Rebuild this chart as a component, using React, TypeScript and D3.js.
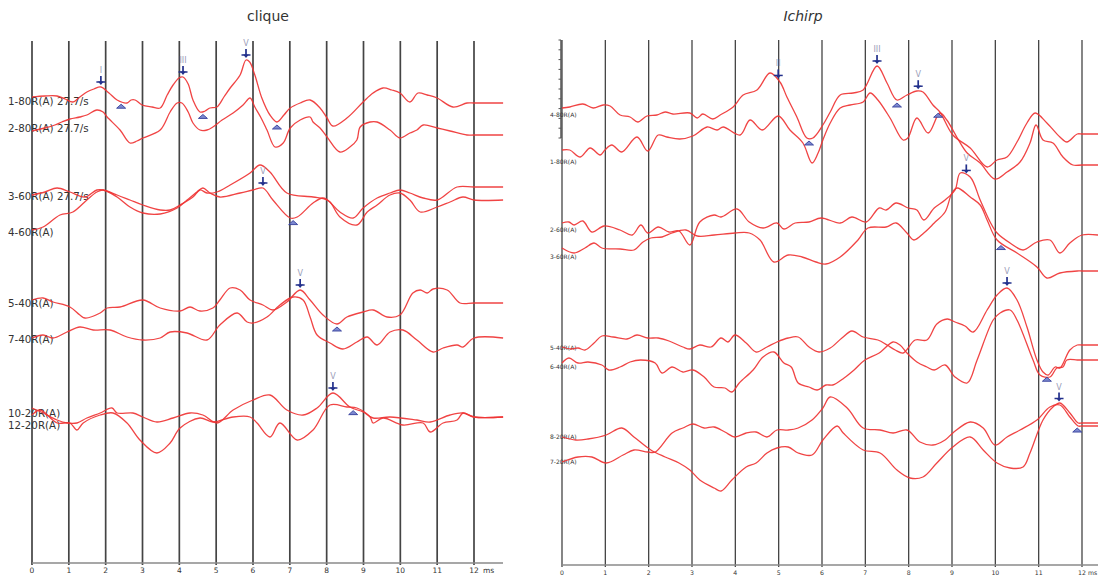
import React from 'react';
import * as d3 from 'd3';

type Pt = [number, number];

// ---------- shared axis ----------
const TICKS: number[] = [0, 1, 2, 3, 4, 5, 6, 7, 8, 9, 10, 11, 12];

// ---------- clique (left) ----------
const cliqueLabels: string[] = ['1-80R(A) 27.7/s', '2-80R(A) 27.7/s', '3-60R(A) 27.7/s', '4-60R(A)', '5-40R(A)', '7-40R(A)', '10-20R(A)', '12-20R(A)'];

const clique1: Pt[] = [[0,0.4],[0.35,0.5],[0.68,0.5],[0.9,0.2],[1.11,-0.1],[1.3,0.4],[1.49,0.9],[1.68,1.2],[1.87,1.4],[2.09,0.8],[2.31,0.1],[2.58,-0.2],[2.69,0.1],[2.8,0.1],[2.99,-0.4],[3.26,-0.6],[3.48,-0.7],[3.67,0.6],[3.83,1.6],[3.99,2.3],[4.1,2.4],[4.24,1.7],[4.37,0.1],[4.56,-1.1],[4.7,-1.0],[4.83,-0.7],[5.02,-0.6],[5.21,0.4],[5.38,1.3],[5.65,2.6],[5.81,4.1],[5.91,3.9],[6.05,2.6],[6.24,0.3],[6.46,-1.4],[6.65,-2.1],[6.84,-1.4],[7.01,-0.7],[7.28,-0.2],[7.55,0.1],[7.82,-0.7],[8.01,-1.7],[8.17,-2.5],[8.55,-1.7],[8.99,-0.1],[9.26,0.8],[9.53,1.3],[9.77,1.1],[9.99,0.8],[10.26,-0.1],[10.48,0.8],[10.73,0.6],[11.0,0.3],[11.43,-0.6],[11.81,-0.2],[12.0,-0.2],[12.79,-0.2]];
const clique2: Pt[] = [[0,-0.3],[0.35,0],[0.62,0.3],[0.81,0.6],[1.03,0.9],[1.3,1.1],[1.49,1.3],[1.76,1.8],[1.93,1.6],[2.04,1.1],[2.39,-0.2],[2.66,-1.5],[2.85,-1.3],[3.01,-1.0],[3.48,-0.2],[3.75,1.6],[3.94,2.5],[4.07,2.5],[4.24,1.6],[4.37,0.5],[4.56,-0.2],[4.75,-0.2],[4.91,0.1],[5.16,0.8],[5.46,1.5],[5.73,2.3],[5.92,3.0],[6.05,2.1],[6.22,1.0],[6.38,-0.2],[6.6,-1.9],[6.82,-1.5],[7.01,0],[7.28,0.8],[7.55,1.1],[7.63,0.6],[7.82,0],[8.01,-0.9],[8.36,-2.4],[8.63,-1.9],[8.82,-1.2],[8.91,0.1],[9.18,0.6],[9.37,0.6],[9.72,-0.2],[9.99,-1.0],[10.26,-0.5],[10.45,-0.2],[10.62,0.3],[11.0,0],[11.35,-0.3],[11.81,-0.7],[12.0,-0.7],[12.79,-0.7]];
const clique3: Pt[] = [[0,0.1],[0.35,0.4],[0.68,0.8],[1.03,0.4],[1.44,-0.1],[1.76,0.6],[1.93,0.6],[2.31,0.1],[2.66,-0.4],[3.01,-0.9],[3.48,-1.4],[3.75,-1.4],[4.02,-0.9],[4.37,-0.1],[4.56,0.6],[4.75,0.3],[5.02,0.4],[5.38,1.1],[5.92,2.3],[6.19,3.1],[6.46,2.4],[6.92,0.3],[7.63,-0.1],[8.01,-0.4],[8.36,-1.6],[8.72,-2.2],[8.99,-1.2],[9.37,-0.2],[9.72,0.3],[9.99,0.6],[10.26,0.3],[10.62,-0.2],[11.0,-0.4],[11.54,0.9],[12.0,0.9],[12.79,0.9]];
const clique4: Pt[] = [[0,0.2],[0.3,0.5],[0.76,1.7],[1.11,2.0],[1.49,3.2],[1.76,4.0],[1.93,4.2],[2.31,3.5],[2.66,2.5],[3.01,1.9],[3.48,1.8],[3.94,2.4],[4.21,3.2],[4.48,4.0],[4.64,4.4],[4.83,3.9],[5.1,3.5],[5.65,3.9],[6.0,4.2],[6.27,4.4],[6.54,3.2],[7.01,1.4],[7.2,1.5],[7.63,2.9],[7.9,3.4],[8.09,3.0],[8.36,1.5],[8.82,0.7],[9.1,2.0],[9.37,2.7],[9.72,3.7],[9.99,3.9],[10.26,3.2],[10.54,2.0],[11.0,2.5],[11.35,3.0],[11.7,3.5],[12.0,3.2],[12.79,3.2]];
const clique5: Pt[] = [[0,0.3],[0.3,0.5],[0.57,0.1],[1.03,-0.4],[1.3,-1.2],[1.44,-1.5],[1.85,-1.0],[2.04,-0.5],[2.39,-0.4],[3.01,0.3],[3.48,-0.5],[4.02,-0.8],[4.29,-0.4],[4.56,-0.8],[4.91,-0.5],[5.1,0.3],[5.38,1.5],[5.65,1.3],[5.92,0.3],[6.27,-0.2],[6.54,-0.7],[6.92,0.1],[7.28,1.3],[7.55,0.3],[7.9,-1.2],[8.28,-2.1],[8.55,-1.4],[8.99,-0.9],[9.26,-0.7],[9.64,-1.4],[9.99,-1.2],[10.34,1.0],[10.54,1.3],[10.73,1.0],[10.89,1.4],[11.27,1.3],[11.62,0],[12.0,0],[12.79,0]];
const clique7: Pt[] = [[0,0.1],[0.3,0.4],[0.57,0.1],[0.95,0.7],[1.3,1.2],[1.66,0.9],[2.12,0.9],[2.58,0.2],[3.01,-0.1],[3.48,0.1],[3.75,0.7],[4.21,0.6],[4.75,-0.1],[5.1,1.4],[5.57,2.6],[5.84,1.7],[6.0,1.6],[6.38,2.2],[6.73,3.4],[7.09,4.2],[7.36,3.9],[7.55,2.2],[7.74,0.4],[8.09,-0.4],[8.44,-1.0],[8.82,-0.3],[9.1,0.2],[9.37,-0.6],[9.72,0.7],[10.07,0.9],[10.45,-0.1],[10.89,-1.3],[11.16,-0.9],[11.54,-0.6],[11.7,-0.8],[12.0,0.1],[12.79,0.1]];
const clique10: Pt[] = [[0,0.5],[0.3,0],[0.68,-0.7],[0.95,-1.0],[1.22,-1.0],[1.49,-0.5],[1.85,0],[2.17,0.5],[2.31,0],[2.74,0],[3.01,-0.4],[3.39,-0.9],[3.83,-0.5],[4.29,0],[4.64,-0.2],[5.02,-1.0],[5.46,0.3],[6.0,1.3],[6.46,1.8],[6.92,0.3],[7.36,-0.2],[7.74,0.5],[8.17,2.0],[8.63,0.6],[8.99,0.1],[9.26,-0.5],[9.72,-0.4],[10.45,-0.7],[10.81,-0.9],[11.35,-0.2],[11.7,0],[12.0,-0.4],[12.79,-0.4]];
const clique12: Pt[] = [[0,1.0],[0.22,1.5],[0.68,0.2],[1.03,0.2],[1.22,-0.5],[1.39,0.2],[1.85,1.0],[2.2,1.2],[2.58,0.2],[2.93,-1.5],[3.39,-2.8],[3.75,-1.8],[4.02,-0.3],[4.56,0.7],[4.91,0.3],[5.46,0.8],[5.92,0.8],[6.11,0.2],[6.46,-1.2],[6.73,0.2],[7.2,-1.5],[7.63,-0.5],[8.09,2.0],[8.55,1.8],[8.82,1.7],[9.18,0.8],[9.26,0.2],[9.53,0.7],[10.07,0],[10.62,0.2],[10.81,-0.7],[11.16,0.2],[11.54,0.5],[11.7,1.2],[12.0,0.8],[12.79,0.8]];

const cliquePeaks = [
  { row: 0, t: 1.87, label: 'I' },
  { row: 0, t: 4.1, label: 'III' },
  { row: 0, t: 5.81, label: 'V' },
  { row: 3, t: 6.27, label: 'V' },
  { row: 4, t: 7.28, label: 'V' },
  { row: 6, t: 8.17, label: 'V' },
];
const cliqueTroughs = [
  { row: 0, t: 2.42 }, { row: 0, t: 4.64 }, { row: 0, t: 6.65 },
  { row: 3, t: 7.09 }, { row: 4, t: 8.28 }, { row: 7, t: 8.72 },
];

// ---------- Ichirp (right) ----------
const ichirpLabels: string[] = ['4-80R(A)', '1-80R(A)', '2-60R(A)', '3-60R(A)', '5-40R(A)', '6-40R(A)', '8-20R(A)', '7-20R(A)'];

const ichirp4: Pt[] = [[0,0.7],[0.18,0.8],[0.48,1.1],[0.72,0.7],[0.95,1.0],[1.11,0.9],[1.34,0],[1.57,-0.2],[1.75,-0.7],[1.96,-0.1],[2.19,0],[2.38,0.3],[2.56,0.1],[2.95,0.2],[3.12,-0.3],[3.25,0.1],[3.48,-0.4],[3.65,0],[3.95,0.8],[4.18,2.0],[4.5,2.5],[4.8,4.2],[5.03,3.3],[5.19,1.8],[5.42,-0.2],[5.65,-2.3],[5.79,-2.3],[6.02,-1.0],[6.19,0.3],[6.42,2.0],[6.72,2.2],[6.95,2.5],[7.27,4.9],[7.5,3.2],[7.73,1.5],[7.96,2.0],[8.19,2.4],[8.33,2.3],[8.56,1.0],[8.72,0.3],[9.02,-2.0],[9.42,-3.3],[9.81,-5.2],[10.04,-4.5],[10.27,-4.2],[10.5,-2.7],[10.73,-0.8],[10.92,0.2],[11.19,-0.8],[11.49,-2.2],[11.65,-2.7],[11.89,-1.9],[12.0,-1.9],[12.37,-1.9]];
const ichirp1: Pt[] = [[0,1.2],[0.18,1.2],[0.42,0.5],[0.65,1.4],[0.88,0.7],[0.99,1.2],[1.15,1.7],[1.38,1.0],[1.73,2.5],[1.98,1.1],[2.22,2.7],[2.42,2.5],[2.72,2.3],[3.02,2.6],[3.35,3.5],[3.58,3.2],[3.72,3.5],[4.11,2.7],[4.34,4.2],[4.62,3.2],[4.99,4.6],[5.26,3.2],[5.56,1.9],[5.77,-0.1],[5.91,0.9],[6.02,2.2],[6.19,3.9],[6.42,5.4],[6.65,5.7],[6.95,6.0],[7.11,6.9],[7.29,6.2],[7.57,4.4],[7.87,2.2],[7.98,2.4],[8.19,4.4],[8.45,2.9],[8.72,4.9],[8.88,4.2],[9.11,2.5],[9.35,0.9],[9.65,-0.1],[9.99,-1.7],[10.27,-1.0],[10.57,0],[10.8,1.9],[10.94,3.7],[11.1,2.2],[11.33,1.9],[11.56,0.5],[11.79,-0.3],[12.0,-0.3],[12.37,-0.3]];
const ichirp2: Pt[] = [[0,0.7],[0.16,0.8],[0.28,0.5],[0.48,0.9],[0.69,-0.2],[0.97,0.4],[1.34,0],[1.62,-0.5],[1.82,0.5],[1.98,-0.3],[2.22,0.3],[2.47,-0.2],[2.7,-0.1],[2.95,-1.5],[3.18,0.8],[3.51,1.5],[3.67,1.3],[4.04,2.1],[4.32,0.8],[4.64,0.2],[4.96,0.7],[5.12,0.1],[5.38,0.7],[5.7,0.8],[5.98,1.2],[6.42,0.7],[6.69,1.3],[7.02,0.8],[7.32,2.2],[7.48,2.0],[7.71,2.7],[7.99,2.2],[8.19,2.0],[8.35,1.0],[8.59,2.2],[8.84,3.0],[9.07,4.0],[9.19,5.7],[9.42,5.3],[9.65,3.0],[9.88,0.8],[10.04,-0.3],[10.34,-1.3],[10.64,-2.0],[10.96,-1.2],[11.26,-1.0],[11.49,-2.3],[11.72,-1.3],[12.0,-0.5],[12.37,-0.5]];
const ichirp3: Pt[] = [[0,0.9],[0.28,0.4],[0.53,0.9],[0.74,1.4],[0.92,0.9],[1.34,0.8],[1.66,0.7],[1.87,1.5],[2.05,1.9],[2.31,2.0],[2.54,2.4],[2.86,2.7],[3.12,2.1],[3.51,2.2],[3.99,2.4],[4.32,2.4],[4.57,1.7],[4.89,-0.5],[5.22,0.2],[5.54,0],[5.86,-0.5],[6.09,-0.7],[6.42,0],[6.83,1.7],[7.06,2.9],[7.48,3.0],[7.71,3.4],[7.96,2.4],[8.12,1.7],[8.35,2.4],[8.59,3.4],[8.84,4.5],[9.0,6.4],[9.12,6.9],[9.42,6.0],[9.65,5.2],[9.81,3.7],[10.04,1.7],[10.5,0.4],[10.96,-1.0],[11.19,-2.1],[11.49,-1.6],[11.89,-1.4],[12.0,-1.4],[12.37,-1.4]];
const ichirp5: Pt[] = [[0,0.1],[0.21,-0.1],[0.37,0],[0.53,-0.2],[0.74,0.5],[0.92,1.2],[1.18,1.1],[1.5,0.9],[1.73,1.3],[1.98,1.0],[2.22,1.0],[2.47,0.7],[2.79,0.1],[2.95,-0.1],[3.18,0.3],[3.44,0.1],[3.67,1.0],[3.83,0.6],[3.99,1.3],[4.25,0.5],[4.48,-0.4],[4.73,0.1],[4.96,0.6],[5.22,1.0],[5.45,1.1],[5.7,0.1],[5.93,-0.4],[6.19,0],[6.46,1.0],[6.69,1.7],[6.95,1.1],[7.29,0.8],[7.5,0.3],[7.69,-0.2],[7.87,-0.5],[8.15,0.8],[8.42,0.8],[8.65,2.4],[8.89,2.9],[9.07,2.6],[9.3,2.2],[9.49,1.6],[9.81,3.8],[10.04,5.3],[10.27,6.0],[10.5,4.8],[10.73,2.1],[10.96,-1.2],[11.1,-2.4],[11.22,-2.7],[11.38,-1.9],[11.49,-2.0],[11.72,-0.2],[11.89,0.3],[12.0,0.3],[12.37,0.3]];
const ichirp6: Pt[] = [[0,0.4],[0.16,0.9],[0.37,0.4],[0.6,0.5],[0.92,0.2],[1.08,-0.3],[1.34,0],[1.57,0.5],[1.82,0.7],[2.15,0.4],[2.31,-0.6],[2.54,0],[2.79,-0.5],[3.02,-0.3],[3.28,-1.0],[3.51,-2.0],[3.76,-2.1],[3.92,-2.5],[4.09,-1.6],[4.41,-0.3],[4.64,1.0],[4.89,1.5],[5.12,0.4],[5.29,0],[5.45,-1.6],[5.7,-2.0],[5.89,-2.3],[6.09,-1.8],[6.25,-1.8],[6.51,-1.1],[6.74,-0.3],[6.99,0.7],[7.32,1.4],[7.64,2.5],[7.8,2.2],[7.96,1.4],[8.19,0.5],[8.42,0],[8.59,-0.3],[8.84,0.2],[9.07,-1.0],[9.35,-1.6],[9.58,0.7],[9.95,4.7],[10.11,5.4],[10.34,5.7],[10.5,4.7],[10.87,0.7],[11.03,-0.8],[11.26,-1.0],[11.42,-0.1],[11.56,0],[11.65,0.7],[11.89,0.7],[12.0,0.7],[12.37,0.7]];
const ichirp8: Pt[] = [[0,0],[0.32,-0.3],[0.6,-0.2],[1.02,0.2],[1.38,0.9],[1.66,0],[2.05,-1.3],[2.38,-2.0],[2.7,-2.6],[2.95,-3.3],[3.18,-4.3],[3.51,-5.1],[3.67,-5.4],[3.92,-4.3],[4.25,-3.0],[4.48,-2.6],[4.73,-1.6],[4.96,-1.1],[5.22,-1.0],[5.45,-1.6],[5.77,-1.8],[6.02,-0.3],[6.35,1.1],[6.49,0.4],[6.95,-1.3],[7.34,-1.6],[7.73,-3.3],[8.03,-4.1],[8.33,-4.0],[8.65,-2.6],[9.02,-1.0],[9.42,0],[9.72,-1.3],[10.04,-2.6],[10.34,-3.1],[10.64,-3.0],[10.8,-1.6],[11.1,1.7],[11.33,3.0],[11.49,3.4],[11.72,2.4],[11.91,1.4],[12.0,1.4],[12.37,1.4]];
const ichirp7: Pt[] = [[0,0],[0.37,0.5],[0.69,0.5],[1.02,-0.1],[1.41,0.7],[1.66,1.2],[1.98,1.0],[2.15,1.0],[2.54,2.9],[2.79,3.4],[3.02,3.8],[3.28,3.4],[3.51,3.5],[3.76,3.0],[3.99,2.5],[4.25,2.9],[4.48,3.0],[4.73,2.5],[4.96,3.2],[5.22,3.2],[5.45,3.4],[5.77,4.2],[6.02,5.4],[6.19,6.5],[6.58,5.4],[6.95,3.4],[7.34,3.2],[7.64,2.9],[7.96,3.2],[8.26,2.0],[8.56,1.7],[8.84,2.2],[9.02,2.9],[9.42,4.0],[9.72,3.4],[9.99,1.7],[10.27,2.5],[10.57,3.2],[10.96,4.2],[11.26,5.5],[11.49,5.7],[11.72,4.5],[11.91,3.6],[12.0,3.6],[12.37,3.6]];

const ichirpPeaks = [
  { row: 0, t: 4.99, label: 'II' },
  { row: 0, t: 7.27, label: 'III' },
  { row: 0, t: 8.22, label: 'V' },
  { row: 2, t: 9.33, label: 'V' },
  { row: 4, t: 10.27, label: 'V' },
  { row: 6, t: 11.47, label: 'V' },
];
const ichirpTroughs = [
  { row: 0, t: 5.7 }, { row: 0, t: 7.73 }, { row: 0, t: 8.68 },
  { row: 3, t: 10.13 }, { row: 4, t: 11.19 }, { row: 7, t: 11.89 },
];

// ---------- layout (positions/styles, not data) ----------
const FONT = '"DejaVu Sans", Verdana, sans-serif';
const TRACE = '#ef3434';
const ARROW = '#23308c';

interface PanelCfg {
  title: string;
  italic: boolean;
  titleX: number;
  x0: number;
  x12: number;
  gridTop: number;
  axisY: number;
  axisEnd: number;
  rowY: number[];
  labels: string[];
  labelX: number;
  labelSize: number;
  traces: Pt[][];
  peaks: { row: number; t: number; label: string }[];
  troughs: { row: number; t: number }[];
  tickSize: number;
  gridWidth: number;
  msGap: number;
  scaleBar: boolean;
}

const amp = d3.scaleLinear().domain([0, 1]).range([0, -10]);

function Panel({ cfg }: { cfg: PanelCfg }) {
  const x = d3.scaleLinear().domain([0, 12]).range([cfg.x0, cfg.x12]);
  const interp = cfg.traces.map((tr) =>
    d3.scaleLinear().domain(tr.map((d) => d[0])).range(tr.map((d) => d[1])).clamp(true)
  );
  const yOf = (row: number, t: number) => cfg.rowY[row] + amp(interp[row](t));

  return (
    <g>
      <text x={cfg.titleX} y={21} textAnchor="middle" fontFamily={FONT} fontSize={14}
        fontStyle={cfg.italic ? 'italic' : 'normal'} fill="#333">{cfg.title}</text>
      {TICKS.map((t) => (
        <line key={'g' + t} x1={x(t)} x2={x(t)} y1={cfg.gridTop} y2={cfg.axisY + 2}
          stroke="#444" strokeWidth={cfg.gridWidth} />
      ))}
      <line x1={cfg.x0} x2={cfg.axisEnd} y1={cfg.axisY} y2={cfg.axisY} stroke="#8a8a8a" strokeWidth={1.5} />
      {TICKS.map((t) => (
        <text key={'t' + t} x={x(t)} y={cfg.axisY + 10} textAnchor="middle" fontFamily={FONT}
          fontSize={cfg.tickSize} fill="#333">{t}</text>
      ))}
      <text x={x(12) + cfg.msGap} y={cfg.axisY + 10} fontFamily={FONT} fontSize={cfg.tickSize} fill="#333">ms</text>
      {cfg.scaleBar && (
        <g stroke="#555" strokeWidth={1}>
          <line x1={cfg.x0 - 1} x2={cfg.x0 - 1} y1={cfg.gridTop} y2={cfg.gridTop + 98} strokeWidth={1.5} />
          {d3.range(0, 11).map((i) => (
            <line key={'sb' + i} x1={cfg.x0 - 3.5} x2={cfg.x0 - 1} y1={cfg.gridTop + i * 9.8} y2={cfg.gridTop + i * 9.8} />
          ))}
        </g>
      )}
      {cfg.labels.map((l, i) => (
        <text key={'l' + i} x={cfg.labelX} y={cfg.rowY[i]} dy="0.35em" fontFamily={FONT}
          fontSize={cfg.labelSize} fill="#333">{l}</text>
      ))}
      {cfg.traces.map((tr, i) => {
        const line = d3.line<Pt>()
          .x((d) => x(d[0]))
          .y((d) => cfg.rowY[i] + amp(d[1]))
          .curve(d3.curveCatmullRom.alpha(0.5));
        return <path key={'p' + i} d={line(tr) || ''} fill="none" stroke={TRACE} strokeWidth={1.3} strokeOpacity={0.92} />;
      })}
      {cfg.peaks.map((p, i) => {
        const cx = x(p.t);
        const tip = yOf(p.row, p.t) - 2;
        return (
          <g key={'pk' + i}>
            <text x={cx} y={tip - 12} textAnchor="middle" fontFamily={FONT} fontSize={8} fill="#9a9db8">{p.label}</text>
            <line x1={cx} x2={cx} y1={tip - 9} y2={tip - 2} stroke={ARROW} strokeWidth={1.7} />
            <line x1={cx - 4.5} x2={cx + 4.5} y1={tip - 3} y2={tip - 3} stroke={ARROW} strokeWidth={1.5} />
            <path d={`M${cx - 2.8},${tip - 3.5} L${cx + 2.8},${tip - 3.5} L${cx},${tip} Z`} fill={ARROW} />
          </g>
        );
      })}
      {cfg.troughs.map((p, i) => {
        const cx = x(p.t);
        const top = yOf(p.row, p.t) + 3;
        return (
          <path key={'tr' + i} d={`M${cx - 4.5},${top + 4} L${cx},${top} L${cx + 4.5},${top + 4} Z`}
            fill="#7d89cf" stroke="#34409c" strokeWidth={0.9} />
        );
      })}
    </g>
  );
}

const leftCfg: PanelCfg = {
  title: 'clique', italic: false, titleX: 268,
  x0: 32, x12: 474, gridTop: 41, axisY: 563, axisEnd: 503,
  rowY: [101, 128, 196, 232, 303, 339, 413, 425],
  labels: cliqueLabels, labelX: 8, labelSize: 10.3,
  traces: [clique1, clique2, clique3, clique4, clique5, clique7, clique10, clique12],
  peaks: cliquePeaks, troughs: cliqueTroughs, tickSize: 7.5, gridWidth: 1.7, msGap: 9, scaleBar: false,
};

const rightCfg: PanelCfg = {
  title: 'Ichirp', italic: true, titleX: 803,
  x0: 562, x12: 1082, gridTop: 40, axisY: 565, axisEnd: 1098,
  rowY: [115, 162, 230, 257, 348, 367, 437, 462],
  labels: ichirpLabels, labelX: 550, labelSize: 6,
  traces: [ichirp4, ichirp1, ichirp2, ichirp3, ichirp5, ichirp6, ichirp8, ichirp7],
  peaks: ichirpPeaks, troughs: ichirpTroughs, tickSize: 6.2, gridWidth: 1.3, msGap: 6, scaleBar: true,
};

export default function App() {
  return (
    <svg width={1098} height={577} style={{ position: 'absolute', left: 0, top: 0, background: '#fff' }}>
      <rect width={1098} height={577} fill="#fff" />
      <Panel cfg={leftCfg} />
      <Panel cfg={rightCfg} />
    </svg>
  );
}
